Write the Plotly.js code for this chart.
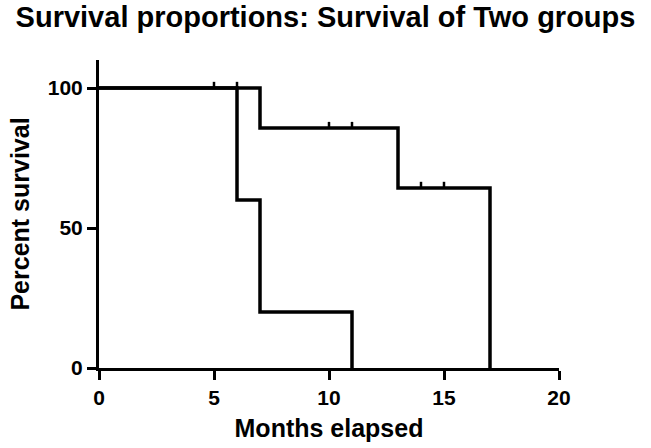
<!DOCTYPE html>
<html>
<head>
<meta charset="utf-8">
<script src="https://cdn.plot.ly/plotly-3.0.1.min.js"></script>
<style>html,body{margin:0;padding:0;background:#fff;}#chart{width:651px;height:448px;}</style>
</head>
<body>
<div id="chart"></div>
<script>
// Group A (longer survival): step times and survival %
const groupA_time = [0, 7, 13, 17];
const groupA_surv = [100, 85.7, 64.3, 0];
const groupA_censorTime = [5, 6, 10, 11, 14, 15];
const groupA_censorSurv = [100, 100, 85.7, 85.7, 64.3, 64.3];
// Group B (shorter survival)
const groupB_time = [0, 6, 7, 11];
const groupB_surv = [100, 60, 20, 0];
const xTicks = [0, 5, 10, 15, 20];
const yTicks = [0, 50, 100];

const lineStyle = {color: '#000', width: 3.5, shape: 'hv'};
const traces = [
  {x: groupA_time, y: groupA_surv, mode: 'lines', line: lineStyle, cliponaxis: false, hoverinfo: 'skip'},
  {x: groupB_time, y: groupB_surv, mode: 'lines', line: lineStyle, cliponaxis: false, hoverinfo: 'skip'},
  {x: groupA_censorTime, y: groupA_censorSurv, mode: 'markers', cliponaxis: false,
   marker: {size: 1, color: '#000'},
   error_y: {type: 'constant', symmetric: false, value: 2.2, valueminus: 0, width: 0, thickness: 2.5, color: '#000'},
   hoverinfo: 'skip'}
];

const fontFam = 'Liberation Sans, Arial, sans-serif';
const layout = {
  width: 651, height: 448,
  paper_bgcolor: '#fff', plot_bgcolor: '#fff',
  showlegend: false,
  margin: {l: 99, r: 92, t: 60, b: 80},
  title: {text: 'Survival proportions: Survival of Two groups', x: 0.5, xanchor: 'center',
          y: 0.962, yref: 'container', yanchor: 'middle',
          font: {family: fontFam, size: 29, weight: 'bold', color: '#000'}},
  xaxis: {range: [0, 20], tickvals: xTicks, ticktext: xTicks.map(String),
          showgrid: false, zeroline: false, showline: true, linecolor: '#000', linewidth: 3,
          ticks: 'outside', ticklen: 9, tickwidth: 3, tickcolor: '#000',
          tickfont: {family: fontFam, size: 21, weight: 'bold', color: '#000'},
          title: {text: 'Months elapsed', standoff: 12,
                  font: {family: fontFam, size: 25, weight: 'bold', color: '#000'}}},
  yaxis: {range: [0, 110], tickvals: yTicks, ticktext: yTicks.map(String),
          showgrid: false, zeroline: false, showline: true, linecolor: '#000', linewidth: 3,
          ticks: 'outside', ticklen: 9, tickwidth: 3, tickcolor: '#000',
          tickfont: {family: fontFam, size: 21, weight: 'bold', color: '#000'},
          title: {text: 'Percent survival', standoff: 12,
                  font: {family: fontFam, size: 25, weight: 'bold', color: '#000'}}}
};
Plotly.newPlot('chart', traces, layout, {staticPlot: true, displayModeBar: false});
</script>
</body>
</html>
